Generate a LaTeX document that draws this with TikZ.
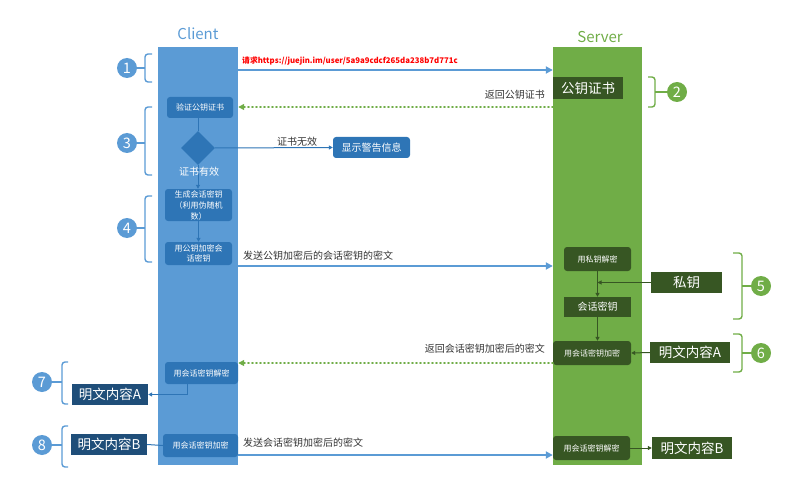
\documentclass[tikz,border=0pt]{standalone}
\usepackage{fontspec}
\setmainfont{Noto Sans CJK SC}
\usetikzlibrary{arrows.meta,shapes.geometric}
\definecolor{cblue}{HTML}{5B9BD5}
\definecolor{dblue}{HTML}{2E75B6}
\definecolor{nblue}{HTML}{1F4E79}
\definecolor{sgreen}{HTML}{70AD47}
\definecolor{dgreen}{HTML}{375623}
\definecolor{txt}{HTML}{333333}
\definecolor{urlred}{HTML}{FF0000}
\tikzset{
  col/.style={inner sep=0pt, draw=none},
  cbox/.style={fill=dblue, rounded corners=3pt, text=white, font=\fontsize{8}{10.5}\selectfont, inner sep=0pt, align=center},
  gbox/.style={fill=dgreen, rounded corners=3pt, text=white, font=\fontsize{8}{10.5}\selectfont, inner sep=0pt, align=center},
  bigg/.style={fill=dgreen, text=white, font=\fontsize{13.5}{15}\selectfont, inner sep=0pt},
  bigb/.style={fill=nblue, text=white, font=\fontsize{13.5}{15}\selectfont, inner sep=0pt},
  lbl/.style={text=txt, font=\fontsize{10}{12}\selectfont, inner sep=0pt},
  num/.style={circle, fill=#1, text=white, minimum size=20pt, inner sep=0pt, font=\fontsize{14.5}{14.5}\selectfont},
  mainarrow/.style={draw=cblue, line width=2pt, -{Triangle[length=7pt,width=7pt]}},
  dotarrow/.style={draw=sgreen, line width=2pt, line cap=round, dash pattern=on 0.6pt off 3.4pt, -{Triangle[length=6pt,width=6pt]}},
  thinb/.style={draw=dblue, line width=1pt, -{Triangle[length=4pt,width=4pt]}},
  thinline/.style={draw=dblue, line width=1pt},
  thing/.style={draw=dgreen, line width=1pt, -{Triangle[length=4pt,width=4pt]}},
  brc/.style={draw=#1, line width=1.4pt, rounded corners=3pt},
}
\begin{document}
\begin{tikzpicture}[x=1pt,y=-1pt]
\useasboundingbox (0,0) rectangle (806,492);

% columns
\node[col, fill=cblue, minimum width=80pt, minimum height=418pt] (client) at (198,256) {};
\node[col, fill=sgreen, minimum width=89pt, minimum height=418pt] (server) at (597.5,256) {};
\node[font=\fontsize{15}{15}\selectfont, text=cblue, inner sep=0pt] (clientlbl) at (198,34) {Client};
\node[font=\fontsize{15}{15}\selectfont, text=sgreen, inner sep=0pt] (serverlbl) at (600,37) {Server};

% step 1
\coordinate (a1) at (0,70);
\draw[mainarrow] (client.east |- a1) -- (server.west |- a1);
\node[anchor=west, text=urlred, font=\bfseries\fontsize{7.8}{9}\selectfont, inner sep=0pt] (url) at (242,61) {请求https://juejin.im/user/5a9a9cdcf265da238b7d771c};

% step 2
\node[bigg, minimum width=70pt, minimum height=22pt] (cert) at (588,88) {公钥证书};
\coordinate (a2) at (0,107);
\draw[dotarrow] (server.west |- a2) -- (client.east |- a2);
\node[lbl, anchor=east] (l2) at (545,95) {返回公钥证书};

% step 3
\node[cbox, minimum width=66pt, minimum height=21pt] (verify) at (200,107.5) {验证公钥证书};
\node[diamond, fill=dblue, minimum width=34pt, minimum height=34pt, inner sep=0pt] (dia) at (198,148) {};
\draw[thinline] (dia.north |- verify.south) -- (dia.north);
\node[cbox, font=\fontsize{10}{12}\selectfont, minimum width=77pt, minimum height=21pt] (warn) at (371.5,147.5) {显示警告信息};
\draw[thinb] (dia.east) -- (warn.west);
\node[lbl] (invalid) at (297,141.5) {证书无效};

% step 4
\node[cbox, minimum width=67pt, minimum height=32pt, font=\fontsize{8}{11}\selectfont] (gen) at (198.5,205) {生成会话密钥\\（利用伪随机\\数）};
\draw[thinb] (dia.south) -- (dia.south |- gen.north);
\node[text=white, font=\fontsize{10}{12}\selectfont, inner sep=0pt] (valid) at (199,172) {证书有效};
\node[cbox, minimum width=67pt, minimum height=23pt] (enc) at (198.5,253.5) {用公钥加密会\\话密钥};
\draw[thinb] (gen.south) -- (enc.north);
\coordinate (a3) at (0,266);
\draw[mainarrow] (client.east |- a3) -- (server.west |- a3);
\node[lbl, anchor=west] (l3) at (243,256) {发送公钥加密后的会话密钥的密文};

% step 5
\node[gbox, minimum width=67pt, minimum height=24pt] (udec) at (597.5,259) {用私钥解密};
\node[gbox, rounded corners=0pt, minimum width=67pt, minimum height=20pt, font=\fontsize{10}{12}\selectfont] (skey) at (597.5,307) {会话密钥};
\node[bigg, minimum width=71pt, minimum height=21pt] (priv) at (686.5,282.5) {私钥};
\draw[thing] (udec.south) -- (skey.north);
\draw[thing] (priv.west) -- (priv.west -| udec.south);

% step 6
\node[gbox, minimum width=78pt, minimum height=24pt] (senc) at (592,353) {用会话密钥加密};
\draw[thing] (skey.south) -- (skey.south |- senc.north);
\node[bigg, minimum width=80pt, minimum height=21pt] (ptAs) at (690,352.5) {明文内容A};
\draw[thing] (ptAs.west) -- (senc.east);
\coordinate (a4) at (0,363);
\draw[dotarrow] (server.west |- a4) -- (client.east |- a4);
\node[lbl, anchor=east] (l4) at (545,349) {返回会话密钥加密后的密文};

% step 7
\node[cbox, minimum width=73pt, minimum height=22pt] (cdec) at (201.5,373) {用会话密钥解密};
\node[bigb, minimum width=76pt, minimum height=21pt] (ptAc) at (110,394.5) {明文内容A};
\draw[thinb] ([xshift=-14.5pt]cdec.south) |- (ptAc.east);

% step 8
\node[bigb, minimum width=76pt, minimum height=21pt] (ptBc) at (109,444.5) {明文内容B};
\node[cbox, minimum width=75pt, minimum height=23pt] (cenc) at (200.5,445.5) {用会话密钥加密};
\draw[thinline] (ptBc.east) -- (cenc.west);
\coordinate (a5) at (0,455);
\draw[mainarrow] (client.east |- a5) -- (server.west |- a5);
\node[lbl, anchor=west] (l5) at (243,443) {发送会话密钥加密后的密文};
\node[gbox, minimum width=77pt, minimum height=24pt] (sdec) at (591.5,448) {用会话密钥解密};
\node[bigg, minimum width=80pt, minimum height=22pt] (ptBs) at (692,448) {明文内容B};
\draw[thing] (sdec.east) -- (ptBs.west);

% numbers
\node[num=cblue] (n1) at (127,68) {1};
\node[num=sgreen] (n2) at (677,92) {2};
\node[num=cblue] (n3) at (127,143) {3};
\node[num=cblue] (n4) at (127,228) {4};
\node[num=sgreen] (n5) at (761,286) {5};
\node[num=sgreen] (n6) at (761,353) {6};
\node[num=cblue] (n7) at (42,382) {7};
\node[num=cblue] (n8) at (42,445) {8};

% braces
\draw[brc=cblue] (152,54) -- (145,54) -- (145,82) -- (152,82);
\coordinate (b1) at (145,68); \draw[brc=cblue] (b1) -- (n1);
\draw[brc=cblue] (152,107) -- (145,107) -- (145,175) -- (152,175);
\coordinate (b3) at (145,143); \draw[brc=cblue] (b3) -- (n3);
\draw[brc=cblue] (152,196) -- (145,196) -- (145,262) -- (152,262);
\coordinate (b4) at (145,228); \draw[brc=cblue] (b4) -- (n4);
\draw[brc=sgreen] (648,77) -- (655,77) -- (655,107) -- (648,107);
\coordinate (b2) at (655,92); \draw[brc=sgreen] (b2) -- (n2);
\draw[brc=sgreen] (733,253) -- (742,253) -- (742,319) -- (733,319);
\coordinate (b5) at (742,286); \draw[brc=sgreen] (b5) -- (n5);
\draw[brc=sgreen] (733,334) -- (742,334) -- (742,372) -- (733,372);
\coordinate (b6) at (742,353); \draw[brc=sgreen] (b6) -- (n6);
\draw[brc=cblue] (68,362) -- (62,362) -- (62,404) -- (68,404);
\coordinate (b7) at (62,382); \draw[brc=cblue] (b7) -- (n7);
\draw[brc=cblue] (68,426) -- (62,426) -- (62,467) -- (68,467);
\coordinate (b8) at (62,445); \draw[brc=cblue] (b8) -- (n8);
\end{tikzpicture}
\end{document}
